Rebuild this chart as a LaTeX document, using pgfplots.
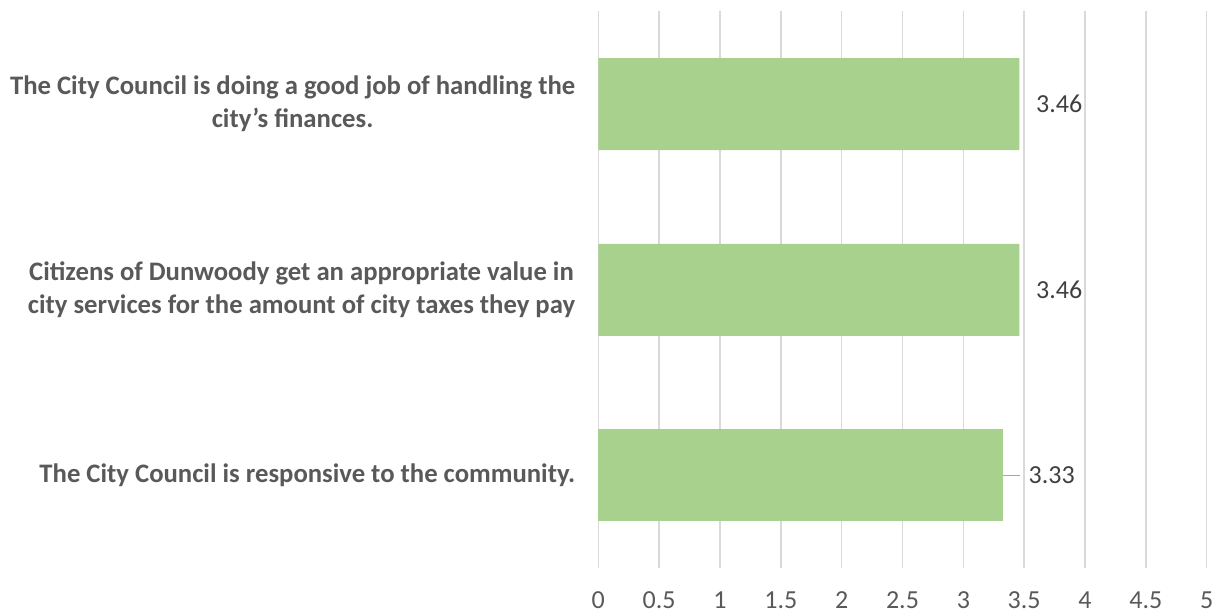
\documentclass[border=0pt]{standalone}
\usepackage{fontspec}
\setmainfont{Carlito}
\usepackage{pgfplots}
\pgfplotsset{compat=1.18}
\definecolor{bargreen}{HTML}{A9D18E}
\definecolor{gridgray}{HTML}{D9D9D9}
\definecolor{labelgray}{HTML}{595959}
\definecolor{datagray}{HTML}{404040}
\definecolor{leadergray}{HTML}{A6A6A6}
\begin{document}
\begin{tikzpicture}[x=1pt,y=1pt]
\path[use as bounding box] (0,0) rectangle (1215,613);
\begin{axis}[
  at={(598.3pt,44.7pt)}, anchor=south west,
  scale only axis, width=608.4pt, height=556.9pt,
  xmin=0, xmax=5, ymin=-0.5, ymax=2.5,
  xtick={0,0.5,1,1.5,2,2.5,3,3.5,4,4.5,5},
  xticklabels={0,0.5,1,1.5,2,2.5,3,3.5,4,4.5,5},
  ytick={0,1,2},
  yticklabels={
    The City Council is responsive to the community.,
    {Citizens of Dunwoody get an appropriate value in\\city services for the amount of city taxes they pay},
    {The City Council is doing a good job of handling the\\city’s finances.}},
  axis line style={draw=none},
  major tick length=0pt,
  xmajorgrids,
  grid style={color=gridgray, line width=1.5pt},
  xticklabel style={font=\fontsize{26}{30}\selectfont, text=labelgray, anchor=north, inner sep=0pt, yshift=-23.5pt},
  yticklabel style={font=\fontsize{26.7}{33}\selectfont\bfseries, text=labelgray, align=center, anchor=east, inner sep=0pt, xshift=-23pt},
  /pgf/number format/assume math mode=true,
  xbar, bar width=92pt,
  clip=false,
]
\addplot[fill=bargreen, draw=none, bar shift=0pt,
  nodes near coords, point meta=x,
  nodes near coords style={anchor=west, inner sep=0pt, xshift=16.7pt, font=\fontsize{26}{30}\selectfont, text=datagray, /pgf/number format/.cd, fixed, precision=2, fixed zerofill}]
  coordinates {(3.46,2) (3.46,1)};
\addplot[fill=bargreen, draw=none, bar shift=0pt,
  nodes near coords, point meta=x,
  nodes near coords style={anchor=west, inner sep=0pt, xshift=25pt, font=\fontsize{26}{30}\selectfont, text=datagray, /pgf/number format/.cd, fixed, precision=2, fixed zerofill}]
  coordinates {(3.33,0)};
\draw[leadergray, line width=1.5pt] (axis cs:3.33,0) -- ++(16.5pt,0pt);
\end{axis}
\end{tikzpicture}
\end{document}
